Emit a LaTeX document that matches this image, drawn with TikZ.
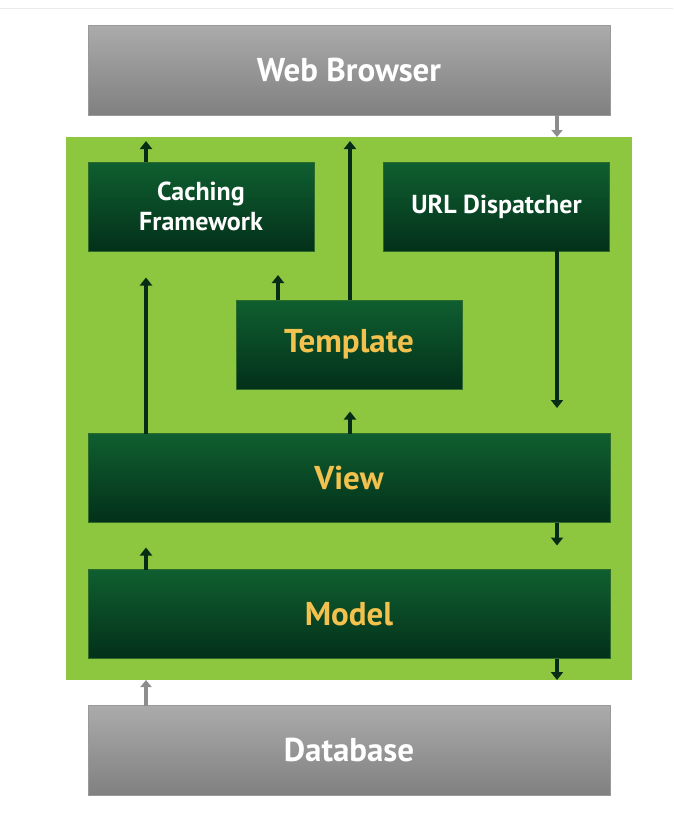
\documentclass[tikz,border=0pt]{standalone}
\usepackage{fontspec}
\setmainfont{PT Sans}
\usepackage{xcolor}
\usetikzlibrary{arrows.meta}
\usetikzlibrary{positioning, calc}
\definecolor{appgreen}{HTML}{8DC63F}
\definecolor{boxtop}{HTML}{0F5F30}
\definecolor{boxbot}{HTML}{03301A}
\definecolor{boxline}{HTML}{2E6B2A}
\definecolor{arrowdark}{HTML}{062C17}
\definecolor{gold}{HTML}{F3C24E}
\definecolor{greytop}{HTML}{ABABAB}
\definecolor{greybot}{HTML}{808080}
\tikzset{
  darkbox/.style={draw=boxline, line width=1pt, top color=boxtop, bottom color=boxbot,
    minimum width=226pt, minimum height=89pt, inner sep=0pt, outer sep=0pt,
    text=white, font=\fontsize{26}{30}\selectfont\bfseries, align=center},
  goldtext/.style={text=gold, font=\fontsize{33}{36}\selectfont\bfseries},
  greybox/.style={top color=greytop, bottom color=greybot, draw=greybot!80,
    minimum width=522pt, minimum height=90pt, inner sep=0pt, outer sep=0pt,
    text=white, font=\fontsize{33}{36}\selectfont\bfseries},
  flow/.style={draw=arrowdark, line width=3.5pt, -{Triangle[length=8pt,width=12pt]}},
  greyflow/.style={draw=greybot!90, line width=3.5pt, -{Triangle[length=7pt,width=11pt]}}
}
\begin{document}
\begin{tikzpicture}[x=1pt, y=-1pt]
              \useasboundingbox (0,0) rectangle (673,814);
              \draw[black!8] (0,8) -- (673,8);
              \node[fill=appgreen, minimum width=566pt, minimum height=543pt, inner sep=0pt, outer sep=0pt] (app) at (348.5,408.5) {};
              \node[greybox] (browser) at (349,70) {Web Browser};
              \node[greybox] (database) at (349,750.5) {Database};
              \node[darkbox] (caching) at (201,206.5) {Caching\\Framework};
              \node[darkbox] (url) at (496.5,206.5) {URL Dispatcher};
              \node[darkbox, goldtext] (template) at (349,344.5) {Template};
              \node[darkbox, goldtext, minimum width=522pt] (view) at (349,478) {View};
              \node[darkbox, goldtext, minimum width=522pt] (model) at (349,614) {Model};
              \coordinate (xl) at (146,0);
              \coordinate (xt) at (278,0);
              \coordinate (xm) at (350,0);
              \coordinate (xr) at (557,0);
              \draw[flow] (caching.north -| xl) -- ++(0,-21);
              \draw[flow] (view.north -| xl) -- ++(0,-156);
              \draw[flow] (template.north -| xt) -- ++(0,-25);
              \draw[flow] (template.north -| xm) -- ++(0,-159);
              \draw[flow] (url.south -| xr) -- ++(0,157);
              \draw[flow] (view.north -| xm) -- ++(0,-22);
              \draw[flow] (view.south -| xr) -- ++(0,23);
              \draw[flow] (model.north -| xl) -- ++(0,-22);
              \draw[flow] (model.south -| xr) -- (app.south -| xr);
              \draw[greyflow] (browser.south -| xr) -- (app.north -| xr);
              \draw[greyflow] (database.north -| xl) -- (app.south -| xl);
            \end{tikzpicture}
\end{document}
